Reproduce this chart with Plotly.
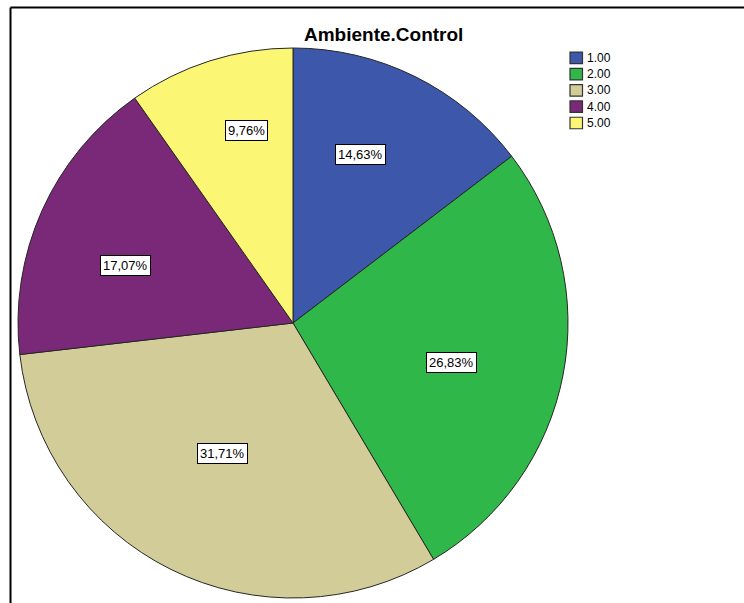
import math
import plotly.graph_objects as go

# Ambiente.Control – share of responses per category (percent)
categories = ["1.00", "2.00", "3.00", "4.00", "5.00"]
percentages = [14.63, 26.83, 31.71, 17.07, 9.76]
slice_colors = ["#3d57ab", "#2fb74a", "#d2cd98", "#7a2878", "#fbf774"]

# label placement per slice: fraction of the radius and shift from the mid-angle (deg)
label_radius = [0.661, 0.593, 0.539, 0.643, 0.721]
label_shift = [-4.4, 3.2, 2.2, -5.0, 4.1]

W, H = 744, 603
CX, CY, R = 293, 323, 275  # pie centre and radius in pixels
FONT = "Arial, Liberation Sans, sans-serif"

fig = go.Figure(
    go.Pie(
        labels=categories,
        values=percentages,
        sort=False,
        direction="clockwise",
        rotation=0,
        textinfo="none",
        hoverinfo="label+percent",
        showlegend=False,
        marker=dict(colors=slice_colors, line=dict(color="#262626", width=1)),
        domain=dict(x=[(CX - R) / W, (CX + R) / W], y=[1 - (CY + R) / H, 1 - (CY - R) / H]),
    )
)

# boxed percentage labels inside each slice
total = sum(percentages)
cum = 0.0
annotations = []
for pct, frac, shift in zip(percentages, label_radius, label_shift):
    mid = (cum + pct / 2) / total * 2 * math.pi + math.radians(shift)
    cum += pct
    px = CX + frac * R * math.sin(mid)
    py = CY - frac * R * math.cos(mid)
    annotations.append(
        dict(
            x=px / W, y=1 - py / H, xref="paper", yref="paper",
            xanchor="center", yanchor="middle",
            text=f"{pct:.2f}%".replace(".", ","),
            showarrow=False,
            font=dict(family=FONT, size=13, color="black"),
            bgcolor="white", bordercolor="black", borderwidth=1, borderpad=2,
        )
    )

annotations.append(
    dict(
        x=383 / W, y=1 - 35 / H, xref="paper", yref="paper",
        xanchor="center", yanchor="middle",
        text="<b>Ambiente.Control</b>", showarrow=False,
        font=dict(family=FONT, size=19, color="black"),
    )
)

# chart frame, open towards the right and bottom page edges
shapes = [
    dict(type="line", xref="paper", yref="paper",
         x0=10.5 / W, x1=1.01, y0=1 - 7.5 / H, y1=1 - 7.5 / H,
         line=dict(color="black", width=2)),
    dict(type="line", xref="paper", yref="paper",
         x0=10.5 / W, x1=10.5 / W, y0=1 - 7.5 / H, y1=-0.01,
         line=dict(color="black", width=2)),
]

# legend: swatch + category text per row
LEG_X, LEG_Y, LEG_STEP, SW = 570, 57.8, 16.3, 12.5
for i, (cat, col) in enumerate(zip(categories, slice_colors)):
    yc = LEG_Y + i * LEG_STEP
    shapes.append(
        dict(type="rect", xref="paper", yref="paper",
             x0=LEG_X / W, x1=(LEG_X + SW) / W,
             y0=1 - (yc + SW / 2 - 0.5) / H, y1=1 - (yc - SW / 2 + 0.5) / H,
             fillcolor=col, line=dict(color="#333333", width=1.2))
    )
    annotations.append(
        dict(x=(LEG_X + SW + 2.5) / W, y=1 - yc / H, xref="paper", yref="paper",
             xanchor="left", yanchor="middle", text=cat, showarrow=False,
             font=dict(family=FONT, size=12, color="black"))
    )

fig.update_layout(
    width=W, height=H,
    margin=dict(l=0, r=0, t=0, b=0),
    paper_bgcolor="white",
    plot_bgcolor="white",
    annotations=annotations,
    shapes=shapes,
    showlegend=False,
)

fig.write_html("out.html")
